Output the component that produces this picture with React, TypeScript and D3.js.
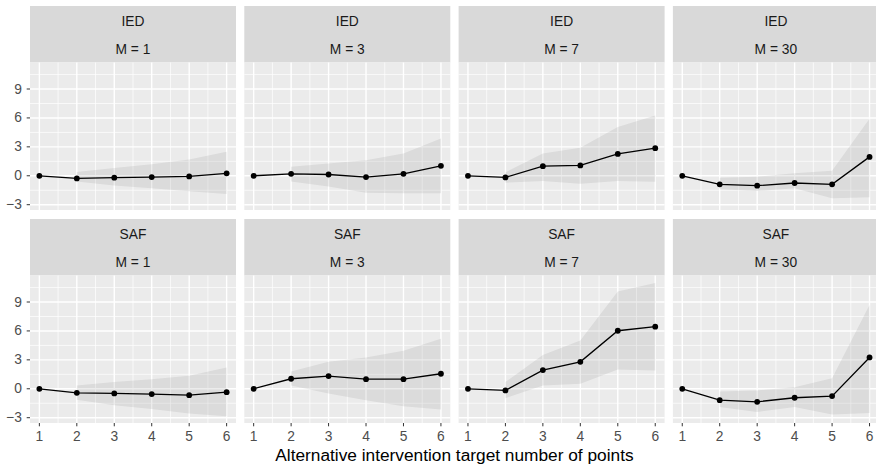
import React, { useEffect } from "react";
import * as d3 from "d3";

// x positions (alternative intervention target number of points)
const steps = [1, 2, 3, 4, 5, 6];
const ribbonSteps = [2, 3, 4, 5, 6];

const methods = ["IED", "SAF"];
const mValues = [1, 3, 7, 30];

// IED estimates + ribbon bounds
const iedM1 = [0, -0.27, -0.2, -0.13, -0.07, 0.25];
const iedM1Lo = [-0.6, -1.0, -1.3, -1.6, -1.9];
const iedM1Hi = [0.4, 0.8, 1.2, 1.7, 2.5];

const iedM3 = [0, 0.2, 0.13, -0.13, 0.2, 1.03];
const iedM3Lo = [-0.6, -1.1, -1.75, -1.8, -1.8];
const iedM3Hi = [0.93, 1.28, 1.6, 2.3, 3.86];

const iedM7 = [0, -0.17, 1.0, 1.07, 2.27, 2.86];
const iedM7Lo = [-0.72, -0.55, -0.83, -0.55, -0.62];
const iedM7Hi = [0.35, 2.3, 2.9, 5.06, 6.26];

const iedM30 = [0, -0.89, -1.03, -0.75, -0.89, 1.96];
const iedM30Lo = [-1.4, -1.58, -1.3, -2.33, -2.23];
const iedM30Hi = [-0.2, -0.1, 0.25, 0.52, 5.92];

// SAF estimates + ribbon bounds
const safM1 = [0, -0.42, -0.48, -0.55, -0.66, -0.35];
const safM1Lo = [-1.14, -1.7, -2.1, -2.56, -2.84];
const safM1Hi = [0.35, 0.7, 1.0, 1.35, 2.2];

const safM3 = [0, 1.04, 1.32, 1.0, 1.0, 1.56];
const safM3Lo = [0.35, -0.48, -1.2, -1.8, -2.16];
const safM3Hi = [1.8, 2.8, 3.25, 3.94, 5.2];

const safM7 = [0, -0.17, 1.94, 2.8, 6.02, 6.44];
const safM7Lo = [-0.97, 0.35, 0.52, 2.0, 1.9];
const safM7Hi = [0.7, 3.5, 5.0, 10.1, 10.97];

const safM30 = [0, -1.18, -1.35, -0.93, -0.76, 3.25];
const safM30Lo = [-1.9, -2.4, -1.9, -2.66, -2.5];
const safM30Hi = [-0.28, -0.17, 0.17, 1.1, 8.7];

const yTicks = [-3, 0, 3, 6, 9];
const yMinor = [-1.5, 1.5, 4.5, 7.5, 10.5];
const xMinor = [1.5, 2.5, 3.5, 4.5, 5.5];
const xTitle = "Alternative intervention target number of points";

const panels = [
  [
    { est: iedM1, lo: iedM1Lo, hi: iedM1Hi },
    { est: iedM3, lo: iedM3Lo, hi: iedM3Hi },
    { est: iedM7, lo: iedM7Lo, hi: iedM7Hi },
    { est: iedM30, lo: iedM30Lo, hi: iedM30Hi },
  ],
  [
    { est: safM1, lo: safM1Lo, hi: safM1Hi },
    { est: safM3, lo: safM3Lo, hi: safM3Hi },
    { est: safM7, lo: safM7Lo, hi: safM7Hi },
    { est: safM30, lo: safM30Lo, hi: safM30Hi },
  ],
];

const W = 876;
const H = 465;
const left0 = 30;
const panelW = 206;
const colStride = 214.3;
const top0 = 6;
const stripH = 56.5;
const panelH = 147.5;
const rowStride = 213;
const font = "'Liberation Sans', Arial, sans-serif";
const baseSize = 13.8;

const App = () => {
  useEffect(() => {
    document.body.style.margin = "0";
  }, []);

  const x = d3.scaleLinear().domain([0.75, 6.25]).range([0, panelW]);
  const y = d3.scaleLinear().domain([-3.55, 11.75]).range([panelH, 0]);

  const line = d3
    .line<number>()
    .x((d, i) => x(steps[i]))
    .y((d) => y(d));

  const plotCenter = left0 + ((mValues.length - 1) * colStride + panelW) / 2;

  return (
    <svg width={W} height={H} style={{ display: "block", background: "#fff" }} fontFamily={font}>
      <defs>
        <clipPath id="pclip">
          <rect x={0} y={0} width={panelW} height={panelH} />
        </clipPath>
      </defs>
      {methods.map((meth, r) =>
        mValues.map((m, c) => {
          const px = left0 + c * colStride;
          const sy = top0 + r * rowStride;
          const py = sy + stripH;
          const p = panels[r][c];
          const ribbon = d3
            .area<number>()
            .x((d, i) => x(ribbonSteps[i]))
            .y0((d, i) => y(p.lo[i]))
            .y1((d, i) => y(p.hi[i]));
          return (
            <g key={`${r}-${c}`}>
              {/* strip */}
              <rect x={px} y={sy} width={panelW} height={stripH} fill="#D9D9D9" />
              <text x={px + panelW / 2} y={sy + 15.7} textAnchor="middle" dominantBaseline="central" fontSize={baseSize} fill="#1A1A1A">
                {meth}
              </text>
              <text x={px + panelW / 2} y={sy + 43.3} textAnchor="middle" dominantBaseline="central" fontSize={baseSize} fill="#1A1A1A">
                {`M = ${m}`}
              </text>
              {/* panel */}
              <g transform={`translate(${px},${py})`}>
                <rect width={panelW} height={panelH} fill="#EBEBEB" />
                {yMinor.map((t) => (
                  <line key={`ym${t}`} x1={0} x2={panelW} y1={y(t)} y2={y(t)} stroke="#fff" strokeWidth={0.7} />
                ))}
                {xMinor.map((t) => (
                  <line key={`xm${t}`} x1={x(t)} x2={x(t)} y1={0} y2={panelH} stroke="#fff" strokeWidth={0.7} />
                ))}
                {yTicks.map((t) => (
                  <line key={`yM${t}`} x1={0} x2={panelW} y1={y(t)} y2={y(t)} stroke="#fff" strokeWidth={1.4} />
                ))}
                {steps.map((t) => (
                  <line key={`xM${t}`} x1={x(t)} x2={x(t)} y1={0} y2={panelH} stroke="#fff" strokeWidth={1.4} />
                ))}
                <g clipPath="url(#pclip)">
                  <path d={ribbon(p.lo) || ""} fill="#7F7F7F" fillOpacity={0.15} />
                  <path d={line(p.est) || ""} fill="none" stroke="#000" strokeWidth={1.3} />
                  {p.est.map((v, i) => (
                    <circle key={i} cx={x(steps[i])} cy={y(v)} r={2.9} fill="#000" />
                  ))}
                </g>
                {/* y axis on first column */}
                {c === 0 &&
                  yTicks.map((t) => (
                    <g key={`yt${t}`}>
                      <line x1={-3.3} x2={0} y1={y(t)} y2={y(t)} stroke="#333" strokeWidth={1} />
                      <text x={-8.2} y={y(t)} textAnchor="end" dominantBaseline="central" fontSize={baseSize} fill="#4D4D4D">
                        {t < 0 ? `\u2212${Math.abs(t)}` : t}
                      </text>
                    </g>
                  ))}
                {/* x axis on bottom row */}
                {r === methods.length - 1 &&
                  steps.map((t) => (
                    <g key={`xt${t}`}>
                      <line x1={x(t)} x2={x(t)} y1={panelH} y2={panelH + 3.3} stroke="#333" strokeWidth={1} />
                      <text x={x(t)} y={panelH + 18} textAnchor="middle" fontSize={baseSize} fill="#4D4D4D">
                        {t}
                      </text>
                    </g>
                  ))}
              </g>
            </g>
          );
        })
      )}
      <text x={plotCenter} y={460.7} textAnchor="middle" fontSize={17.3} fill="#000">
        {xTitle}
      </text>
    </svg>
  );
};

export default App;
